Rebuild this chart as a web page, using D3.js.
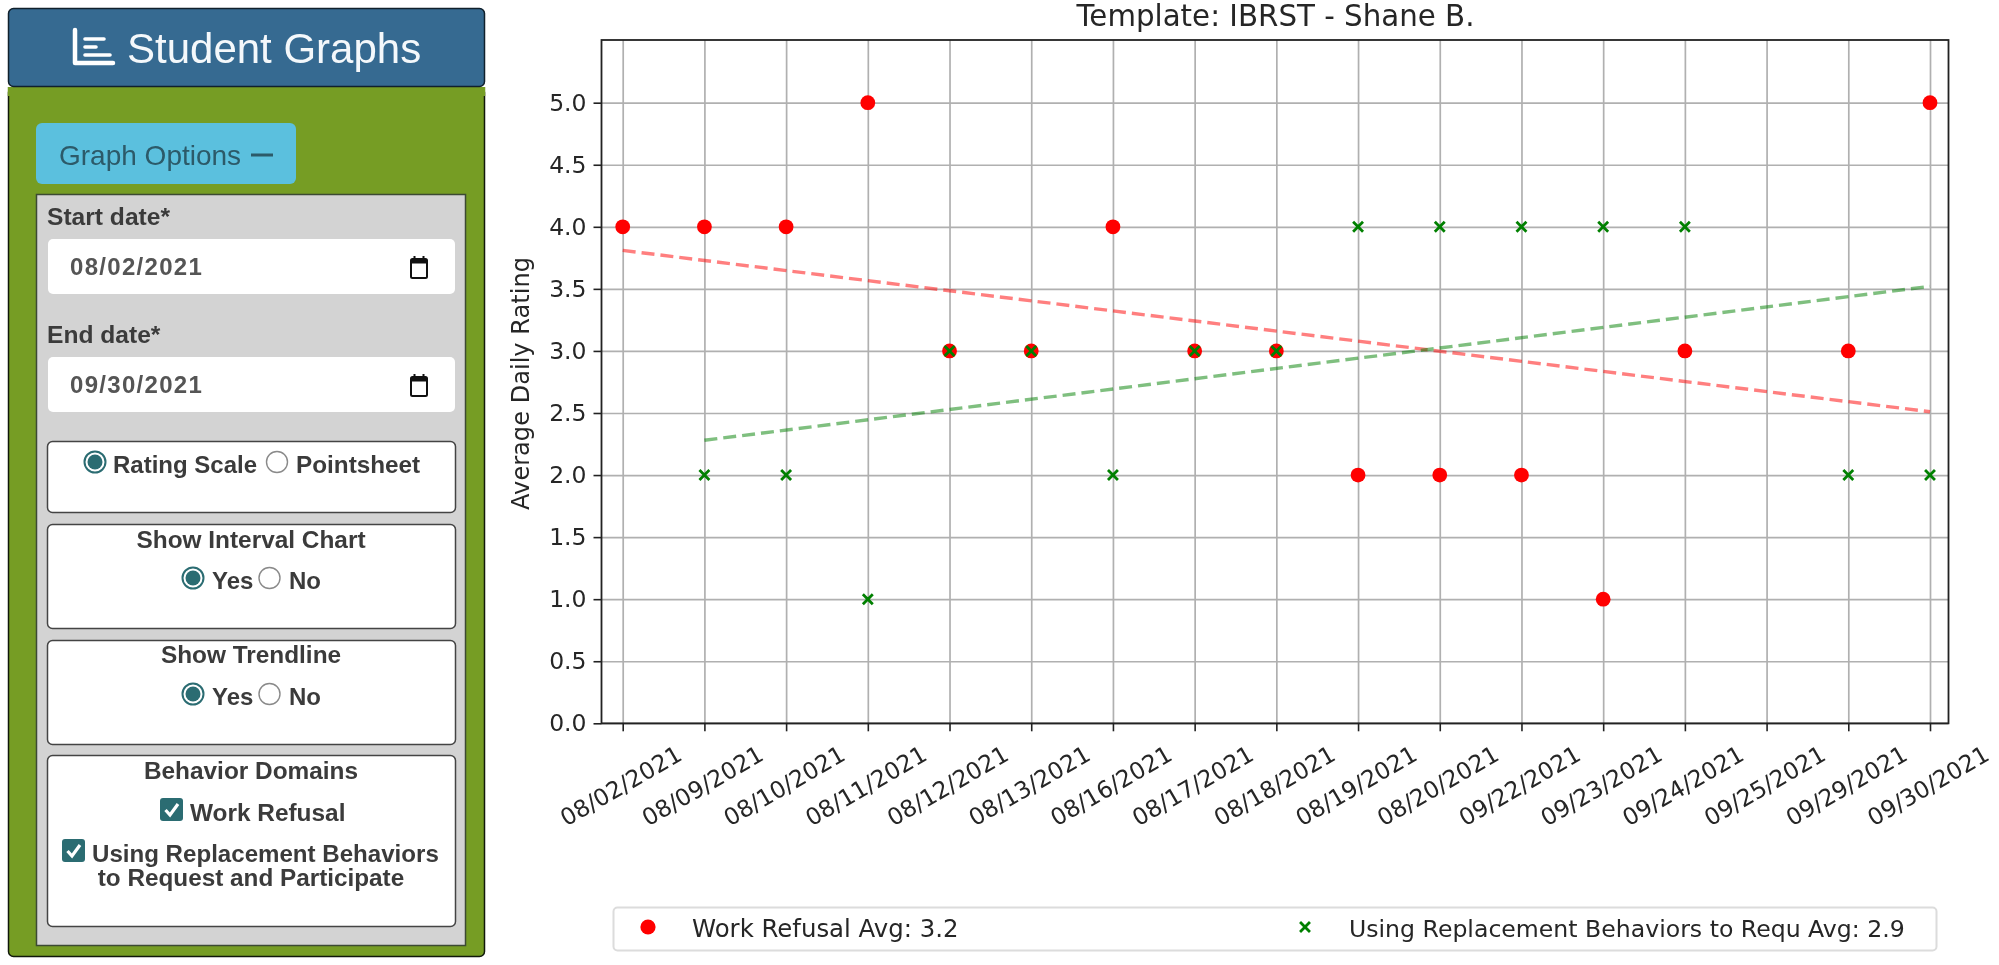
<!DOCTYPE html>
<html>
<head>
<meta charset="utf-8">
<title>Student Graphs</title>
<script src="https://cdn.jsdelivr.net/npm/d3@7"></script>
<style>
  html, body { margin: 0; padding: 0; background: #fff; }
  /* the reference is a soft, upscaled screenshot */
  svg { display: block; filter: blur(0.5px); }
  .side text { font-family: "Liberation Sans", Arial, sans-serif; }
  .plot text { font-family: "DejaVu Sans", sans-serif; fill: #262626; }
</style>
</head>
<body>
<svg id="page" width="1999" height="965"></svg>
<script>
// chart data
const dates = ["08/02/2021", "08/09/2021", "08/10/2021", "08/11/2021", "08/12/2021", "08/13/2021",
  "08/16/2021", "08/17/2021", "08/18/2021", "08/19/2021", "08/20/2021", "09/22/2021",
  "09/23/2021", "09/24/2021", "09/25/2021", "09/29/2021", "09/30/2021"];
const workRefusal = [4, 4, 4, 5, 3, 3, 4, 3, 3, 2, 2, 2, 1, 3, null, 3, 5];
const replacement = [null, 2, 2, 1, 3, 3, 2, 3, 3, 4, 4, 4, 4, 4, null, 2, 2];
const workTrend = [["08/02/2021", 3.81], ["09/30/2021", 2.51]];
const replacementTrend = [["08/09/2021", 2.28], ["09/30/2021", 3.52]];
const yTicks = [0, 0.5, 1, 1.5, 2, 2.5, 3, 3.5, 4, 4.5, 5];
const chartTitle = "Template: IBRST - Shane B.";
const yLabel = "Average Daily Rating";
const workLegend = "Work Refusal Avg: 3.2";
const replacementLegend = "Using Replacement Behaviors to Requ Avg: 2.9";

const svg = d3.select("#page");

// ---- sidebar ----
const side = svg.append("g").attr("class", "side");

function box(x, y, w, h, r, fill, stroke, sw) {
  return side.append("rect").attr("x", x).attr("y", y).attr("width", w).attr("height", h)
    .attr("rx", r).attr("fill", fill).attr("stroke", stroke || "none").attr("stroke-width", sw || 0);
}
function label(str, x, y, size, opts) {
  opts = opts || {};
  return side.append("text").attr("x", x).attr("y", y).text(str)
    .attr("font-size", size)
    .attr("font-weight", opts.weight || "bold")
    .attr("text-anchor", opts.anchor || "start")
    .attr("letter-spacing", opts.spacing || 0)
    .attr("fill", opts.fill || "#3b3b3b");
}
function radio(cx, cy, on) {
  side.append("circle").attr("cx", cx).attr("cy", cy).attr("r", 10.5)
    .attr("fill", "#fff").attr("stroke", on ? "#2b6c72" : "#8a8a8a").attr("stroke-width", on ? 2 : 1.4);
  if (on) side.append("circle").attr("cx", cx).attr("cy", cy).attr("r", 7.5).attr("fill", "#2b6c72");
}
function checkbox(x, y) {
  box(x, y, 23, 23, 3, "#2b6c72");
  side.append("path").attr("d", `M${x + 5.5},${y + 12} l4.5,5 l8,-11`)
    .attr("fill", "none").attr("stroke", "#fff").attr("stroke-width", 3.2);
}
function calendar(x, y) {
  side.append("rect").attr("x", x + 1).attr("y", y + 3).attr("width", 16).attr("height", 19)
    .attr("rx", 1.5).attr("fill", "none").attr("stroke", "#111").attr("stroke-width", 2);
  side.append("rect").attr("x", x + 1).attr("y", y + 3).attr("width", 16).attr("height", 4.5).attr("fill", "#111");
  side.append("path").attr("d", `M${x + 4.5},${y} v3 M${x + 13.5},${y} v3`).attr("stroke", "#111").attr("stroke-width", 2);
}

box(8.5, 87.5, 476, 869, 5, "#769d24", "#10180a", 1.5);
// top of the green body is square, it butts against the header
box(7.75, 87, 477.5, 9, 0, "#769d24");
box(8.5, 8.5, 476, 78, 5, "#366a91", "#10202c", 1.5);
// header icon
side.append("path").attr("d", "M75,30 V63 H113").attr("fill", "none").attr("stroke", "#fff")
  .attr("stroke-width", 4.5).attr("stroke-linecap", "round").attr("stroke-linejoin", "round");
side.append("path").attr("d", "M85,39 H104 M85,47 H96 M85,55 H110").attr("fill", "none")
  .attr("stroke", "#fff").attr("stroke-width", 3.6).attr("stroke-linecap", "round");
label("Student Graphs", 127, 63, 42, { weight: "normal", fill: "#f4f8fb" });

box(36, 123, 260, 61, 6, "#5bc0de");
label("Graph Options", 59, 165, 28, { weight: "normal", fill: "#2c5a69" });
side.append("rect").attr("x", 251).attr("y", 153.5).attr("width", 22).attr("height", 3).attr("fill", "#2c5a69");

box(36.5, 194.5, 429, 751, 0, "#d3d3d3", "#3c4a33", 1.5);

label("Start date*", 47, 225, 24.6);
box(48, 239, 407, 55, 5, "#fff");
label("08/02/2021", 70, 275, 24, { fill: "#555", spacing: 1.3 });
calendar(410, 256);

label("End date*", 47, 343, 24.6);
box(48, 357, 407, 55, 5, "#fff");
label("09/30/2021", 70, 393, 24, { fill: "#555", spacing: 1.3 });
calendar(410, 374);

box(47.5, 441.5, 408, 71, 5, "#fff", "#444", 1.5);
radio(95, 462, true);
label("Rating Scale", 113, 473, 24);
radio(277, 462, false);
label("Pointsheet", 296, 473, 24.3);

box(47.5, 524.5, 408, 104, 5, "#fff", "#444", 1.5);
label("Show Interval Chart", 251, 548, 24.4, { anchor: "middle" });
radio(193, 578, true);
label("Yes", 212, 589, 24);
radio(269.5, 578, false);
label("No", 289, 589, 24);

box(47.5, 640.5, 408, 104, 5, "#fff", "#444", 1.5);
label("Show Trendline", 251, 663, 24.4, { anchor: "middle" });
radio(193, 694, true);
label("Yes", 212, 705, 24);
radio(269.5, 694, false);
label("No", 289, 705, 24);

box(47.5, 755.5, 408, 171, 5, "#fff", "#444", 1.5);
label("Behavior Domains", 251, 779, 24.4, { anchor: "middle" });
checkbox(160, 798);
label("Work Refusal", 190, 821, 24.4);
checkbox(62, 839);
label("Using Replacement Behaviors", 92, 862, 24.1);
label("to Request and Participate", 251, 886, 24.3, { anchor: "middle" });

// ---- chart ----
const plotLeft = 601.5, plotRight = 1948.5, plotTop = 40, plotBottom = 723.3;

const x = d3.scalePoint().domain(dates).range([622.7, 1930]);
const y = d3.scaleLinear().domain([0, 5.505]).range([plotBottom, plotTop]);

const plot = svg.append("g").attr("class", "plot");

// grid lines come from the same axes as the ticks
const gridX = plot.append("g").attr("transform", `translate(0,${plotBottom})`)
  .call(d3.axisBottom(x).tickSize(-(plotBottom - plotTop)).tickFormat(""));
const gridY = plot.append("g").attr("transform", `translate(${plotLeft},0)`)
  .call(d3.axisLeft(y).tickValues(yTicks).tickSize(-(plotRight - plotLeft)).tickFormat(""));
[gridX, gridY].forEach(g => {
  g.select(".domain").remove();
  g.selectAll("line").attr("stroke", "#b0b0b0").attr("stroke-width", 1.7);
});

function trend(points, color) {
  plot.append("path").datum(points)
    .attr("d", d3.line().x(d => x(d[0])).y(d => y(d[1])))
    .attr("fill", "none").attr("stroke", color).attr("stroke-opacity", 0.5)
    .attr("stroke-width", 3.4).attr("stroke-dasharray", "13,6");
}
trend(workTrend, "#ff0000");
trend(replacementTrend, "#008000");

plot.append("g").selectAll("circle")
  .data(dates.map((d, i) => [d, workRefusal[i]]).filter(d => d[1] !== null))
  .join("circle")
  .attr("cx", d => x(d[0])).attr("cy", d => y(d[1])).attr("r", 7.4).attr("fill", "#ff0000");

const cross = d3.symbol().type(d3.symbolX).size(66);
plot.append("g").selectAll("path")
  .data(dates.map((d, i) => [d, replacement[i]]).filter(d => d[1] !== null))
  .join("path")
  .attr("d", cross)
  .attr("transform", d => `translate(${x(d[0])},${y(d[1])})`)
  .attr("fill", "none").attr("stroke", "#008000").attr("stroke-width", 2.8);

// frame
plot.append("rect").attr("x", plotLeft).attr("y", plotTop)
  .attr("width", plotRight - plotLeft).attr("height", plotBottom - plotTop)
  .attr("fill", "none").attr("stroke", "#222").attr("stroke-width", 1.8);

// tick axes
const axisX = plot.append("g").attr("transform", `translate(0,${plotBottom})`)
  .call(d3.axisBottom(x).tickSize(8).tickSizeOuter(0));
axisX.select(".domain").remove();
axisX.selectAll("line").attr("stroke", "#222").attr("stroke-width", 1.6);
axisX.selectAll("text")
  .attr("font-size", 23.5).attr("text-anchor", "middle").attr("dy", 0).attr("y", 0)
  .attr("transform", "translate(-1.5,64) rotate(-30)")
  .attr("dominant-baseline", "middle");

const axisY = plot.append("g").attr("transform", `translate(${plotLeft},0)`)
  .call(d3.axisLeft(y).tickValues(yTicks).tickSize(8).tickFormat(d3.format(".1f")));
axisY.select(".domain").remove();
axisY.selectAll("line").attr("stroke", "#222").attr("stroke-width", 1.6);
axisY.selectAll("text").attr("font-size", 23.5).attr("x", -15).attr("text-anchor", "end");

plot.append("text").attr("x", 1275.5).attr("y", 26).attr("text-anchor", "middle")
  .attr("font-size", 29.3).text(chartTitle);
plot.append("text").attr("transform", "translate(529,383.5) rotate(-90)").attr("text-anchor", "middle")
  .attr("font-size", 24.1).text(yLabel);

// legend
plot.append("rect").attr("x", 613.5).attr("y", 907.5).attr("width", 1323).attr("height", 43).attr("rx", 4)
  .attr("fill", "#fff").attr("stroke", "#dcdcdc").attr("stroke-width", 2);
plot.append("circle").attr("cx", 648).attr("cy", 927).attr("r", 7.6).attr("fill", "#ff0000");
plot.append("text").attr("x", 692).attr("y", 937).attr("font-size", 24.4).text(workLegend);
plot.append("path").attr("d", cross).attr("transform", "translate(1305,927)")
  .attr("fill", "none").attr("stroke", "#008000").attr("stroke-width", 2.8);
plot.append("text").attr("x", 1349).attr("y", 937).attr("font-size", 23.6).text(replacementLegend);
</script>
</body>
</html>
